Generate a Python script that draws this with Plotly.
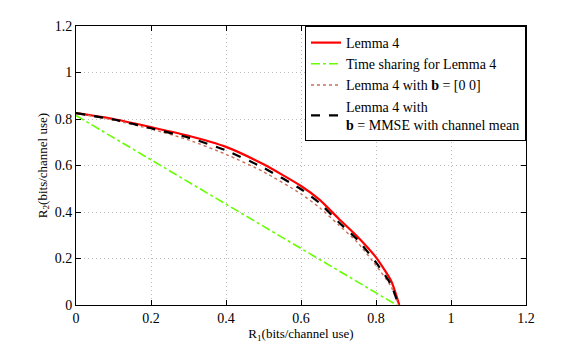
import plotly.graph_objects as go

# Lemma 4 rate region boundary
r1_lemma = [0, 0.1, 0.2, 0.3, 0.4, 0.5, 0.6, 0.65, 0.7, 0.75, 0.8, 0.84, 0.862]
r2_lemma = [0.825, 0.80, 0.765, 0.728, 0.68, 0.605, 0.512, 0.452, 0.372, 0.295, 0.205, 0.105, 0]

# time sharing line
r1_ts = [0, 0.855]
r2_ts = [0.815, 0]

# b = [0 0]
r1_zero = [0, 0.1, 0.2, 0.3, 0.4, 0.5, 0.6, 0.65, 0.7, 0.75, 0.8, 0.84, 0.86]
r2_zero = [0.825, 0.795, 0.757, 0.71, 0.648, 0.573, 0.478, 0.418, 0.345, 0.27, 0.17, 0.08, 0]

# b = MMSE with channel mean
r1_mmse = [0, 0.1, 0.2, 0.3, 0.4, 0.5, 0.6, 0.65, 0.7, 0.75, 0.8, 0.84, 0.86]
r2_mmse = [0.825, 0.798, 0.76, 0.72, 0.665, 0.59, 0.498, 0.438, 0.357, 0.282, 0.183, 0.088, 0]

xticks = [0, 0.2, 0.4, 0.6, 0.8, 1, 1.2]
yticks = [0, 0.2, 0.4, 0.6, 0.8, 1, 1.2]

font_family = "Liberation Serif"

fig = go.Figure()

fig.add_trace(go.Scatter(
    x=r1_lemma, y=r2_lemma, mode='lines', name='Lemma 4',
    line=dict(color='#ff0000', width=2.2, shape='spline', smoothing=0.6)
))
fig.add_trace(go.Scatter(
    x=r1_ts, y=r2_ts, mode='lines', name='Time sharing for Lemma 4',
    line=dict(color='#66ff00', width=1.6, dash='dashdot')
))
fig.add_trace(go.Scatter(
    x=r1_zero, y=r2_zero, mode='lines', name='Lemma 4 with <b>b</b> = [0 0]',
    line=dict(color='#c8705a', width=1.4, dash='dot', shape='spline', smoothing=0.6)
))
fig.add_trace(go.Scatter(
    x=r1_mmse, y=r2_mmse, mode='lines',
    name='Lemma 4 with<br><b>b</b> = MMSE with channel mean',
    line=dict(color='black', width=2.2, dash='dash', shape='spline', smoothing=0.6)
))

axis_common = dict(
    showgrid=True, gridcolor='#bdbdbd', griddash='1px,3px', gridwidth=1,
    showline=True, linecolor='black', linewidth=1, mirror='ticks',
    ticks='inside', ticklen=5, tickcolor='black',
    zeroline=False,
    tickfont=dict(family=font_family, size=14, color='black'),
)

fig.update_xaxes(
    range=[0, 1.2], tickvals=xticks, ticktext=[f"{v:g}" for v in xticks],
    title=dict(text='R<sub>1</sub>(bits/channel use)', standoff=2,
               font=dict(family=font_family, size=13, color='black')),
    **axis_common
)
fig.update_yaxes(
    range=[0, 1.2], tickvals=yticks, ticktext=[f"{v:g}" for v in yticks],
    title=dict(text='R<sub>2</sub>(bits/channel use)', standoff=4,
               font=dict(family=font_family, size=13, color='black')),
    **axis_common
)

fig.update_layout(
    width=581, height=344,
    paper_bgcolor='white', plot_bgcolor='white',
    margin=dict(l=68, r=63, t=18, b=47),
    font=dict(family=font_family, size=13, color='black'),
    legend=dict(
        x=1, y=1, xanchor='right', yanchor='top',
        bgcolor='white', bordercolor='black', borderwidth=1,
        font=dict(family=font_family, size=14, color='black'),
        tracegroupgap=0, itemwidth=30,
    ),
    showlegend=True,
)

fig.write_html("out.html")
